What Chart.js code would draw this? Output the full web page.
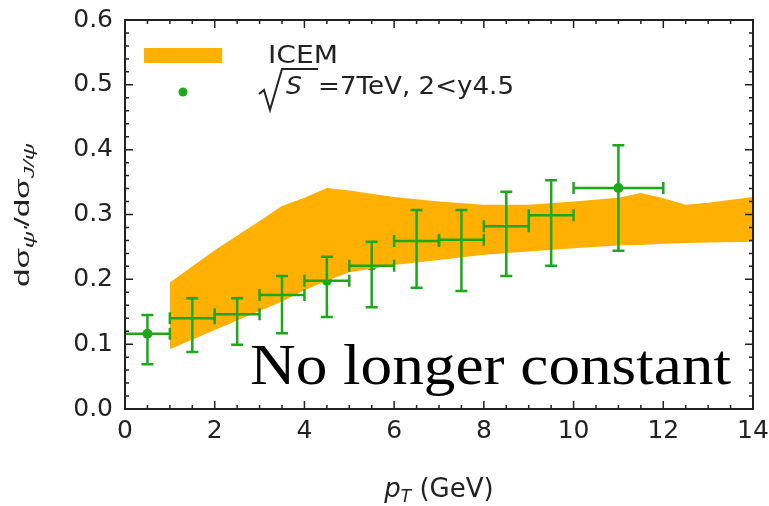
<!DOCTYPE html>
<html lang="en">
<head>
    <meta charset="UTF-8">
    <title>psi(2S)/J/psi ratio vs pT</title>
    <script src="https://cdn.jsdelivr.net/npm/chart.js"></script>
    <style>
        body {
            margin: 0;
            background: #FFF;
        }
        .wrap {
            width: 769px;
            height: 506px;
            position: relative;
        }
    </style>
</head>
<body>
    <div class="wrap">
        <canvas id="ratioChart"></canvas>
    </div>

    <script>
        // ICEM band (lower / upper edge)
        const bandX    = [1, 2, 3, 3.5, 4, 4.5, 5, 6, 7, 8, 9, 10, 11, 11.5, 12, 12.5, 13, 14];
        const bandLow  = [0.092, 0.122, 0.151, 0.166, 0.183, 0.198, 0.211, 0.222, 0.230, 0.238, 0.243, 0.248, 0.252, 0.253, 0.255, 0.256, 0.257, 0.258];
        const bandHigh = [0.195, 0.245, 0.290, 0.313, 0.326, 0.341, 0.337, 0.327, 0.320, 0.315, 0.315, 0.320, 0.326, 0.333, 0.325, 0.315, 0.318, 0.327];

        // LHCb data points with errors
        const ptX   = [0.5, 1.5, 2.5, 3.5, 4.5, 5.5, 6.5, 7.5, 8.5, 9.5, 11];
        const ptXLo = [0, 1, 2, 3, 4, 5, 6, 7, 8, 9, 10];
        const ptXHi = [1, 2, 3, 4, 5, 6, 7, 8, 9, 10, 12];
        const ptY   = [0.116, 0.140, 0.146, 0.176, 0.198, 0.221, 0.259, 0.261, 0.282, 0.299, 0.341];
        const ptYLo = [0.069, 0.088, 0.099, 0.117, 0.142, 0.157, 0.187, 0.182, 0.205, 0.221, 0.244];
        const ptYHi = [0.145, 0.171, 0.171, 0.205, 0.235, 0.258, 0.307, 0.307, 0.335, 0.353, 0.407];

        const xTickLabels = ['0', '2', '4', '6', '8', '10', '12', '14'];
        const yTickLabels = ['0.0', '0.1', '0.2', '0.3', '0.4', '0.5', '0.6'];

        const ORANGE = '#FFB000';
        const GREEN = '#1BA81B';
        const INK = '#222';

        // draws text squeezed/stretched horizontally to a given width
        function fitText(ctx, text, x, y, width) {
            const w = ctx.measureText(text).width;
            ctx.save();
            ctx.translate(x, y);
            ctx.scale(width / w, 1);
            ctx.fillText(text, 0, 0);
            ctx.restore();
        }

        // error bars, frame with inward ticks, legend, titles
        const decorPlugin = {
            id: 'decor',
            afterDatasetsDraw(chart) {
                const ctx = chart.ctx;
                const xs = chart.scales.x, ys = chart.scales.y;
                const a = chart.chartArea;

                ctx.save();
                ctx.strokeStyle = GREEN;
                ctx.lineWidth = 2.5;
                for (let i = 0; i < ptX.length; i++) {
                    const px = xs.getPixelForValue(ptX[i]);
                    const py = ys.getPixelForValue(ptY[i]);
                    const x0 = xs.getPixelForValue(ptXLo[i]);
                    const x1 = xs.getPixelForValue(ptXHi[i]);
                    const y0 = ys.getPixelForValue(ptYLo[i]);
                    const y1 = ys.getPixelForValue(ptYHi[i]);
                    ctx.beginPath();
                    ctx.moveTo(x0, py); ctx.lineTo(x1, py);
                    ctx.moveTo(px, y0); ctx.lineTo(px, y1);
                    ctx.moveTo(px - 6, y0); ctx.lineTo(px + 6, y0);
                    ctx.moveTo(px - 6, y1); ctx.lineTo(px + 6, y1);
                    if (ptXLo[i] > 0) { ctx.moveTo(x0, py - 6); ctx.lineTo(x0, py + 6); }
                    ctx.moveTo(x1, py - 6); ctx.lineTo(x1, py + 6);
                    ctx.stroke();
                }

                // frame
                ctx.strokeStyle = INK;
                ctx.lineWidth = 2;
                ctx.strokeRect(a.left, a.top, a.right - a.left, a.bottom - a.top);
                ctx.lineWidth = 1.5;
                ctx.beginPath();
                for (let v = 0; v <= 14.001; v += 0.5) {
                    const x = xs.getPixelForValue(v);
                    const len = Math.abs(v % 2) < 0.01 ? 8 : 4;
                    ctx.moveTo(x, a.bottom); ctx.lineTo(x, a.bottom - len);
                    ctx.moveTo(x, a.top); ctx.lineTo(x, a.top + len);
                }
                for (let k = 0; k <= 30; k++) {
                    const y = ys.getPixelForValue(k * 0.02);
                    const len = k % 5 === 0 ? 8 : 4;
                    ctx.moveTo(a.left, y); ctx.lineTo(a.left + len, y);
                    ctx.moveTo(a.right, y); ctx.lineTo(a.right - len, y);
                }
                ctx.stroke();

                // legend
                ctx.fillStyle = ORANGE;
                ctx.fillRect(144, 48, 78, 15);
                ctx.fillStyle = GREEN;
                ctx.beginPath();
                ctx.arc(183, 92, 4.5, 0, Math.PI * 2);
                ctx.fill();

                ctx.fillStyle = INK;
                ctx.textBaseline = 'alphabetic';
                ctx.textAlign = 'left';
                ctx.font = '25px "DejaVu Sans"';
                fitText(ctx, 'ICEM', 268, 63, 70);

                ctx.strokeStyle = INK;
                ctx.lineWidth = 2;
                ctx.beginPath();
                ctx.moveTo(259, 94); ctx.lineTo(264, 90);
                ctx.lineTo(270, 110); ctx.lineTo(282, 69); ctx.lineTo(318, 69);
                ctx.stroke();
                ctx.font = 'italic 25px "DejaVu Sans"';
                ctx.fillText('S', 286, 94);
                ctx.font = '25px "DejaVu Sans"';
                fitText(ctx, '=7TeV, 2<y4.5', 318, 94, 196);

                // big annotation
                ctx.fillStyle = '#000';
                ctx.font = '57px "Liberation Serif"';
                fitText(ctx, 'No longer constant', 250, 384, 481);

                // x title: p_T (GeV), centred under the axis
                ctx.fillStyle = INK;
                const tparts = [
                    ['p', 'italic 26px "DejaVu Sans"', 0],
                    ['T', 'italic 17px "DejaVu Sans"', 5],
                    [' (GeV)', '26px "DejaVu Sans"', 0]
                ];
                let tw = 0;
                tparts.forEach(p => { ctx.font = p[1]; tw += ctx.measureText(p[0]).width; });
                let cx = (a.left + a.right) / 2 - tw / 2;
                tparts.forEach(p => {
                    ctx.font = p[1];
                    ctx.fillText(p[0], cx, 497 + p[2]);
                    cx += ctx.measureText(p[0]).width;
                });

                // y title: dσ_ψ'/dσ_J/ψ
                const parts = [
                    ['dσ', '21px "Liberation Sans"', 0],
                    ["ψ'", 'italic 15px "Liberation Sans"', 5],
                    ['/dσ', '21px "Liberation Sans"', 0],
                    ['J/ψ', 'italic 15px "Liberation Sans"', 5]
                ];
                let total = 0;
                parts.forEach(p => { ctx.font = p[1]; total += ctx.measureText(p[0]).width; });
                ctx.translate(29, 215);
                ctx.rotate(-Math.PI / 2);
                ctx.scale(144 / total, 1);
                let tx = -total / 2;
                parts.forEach(p => {
                    ctx.font = p[1];
                    ctx.fillText(p[0], tx, p[2]);
                    tx += ctx.measureText(p[0]).width;
                });
                ctx.restore();
            }
        };

        const ctx = document.getElementById('ratioChart').getContext('2d');
        new Chart(ctx, {
            type: 'line',
            data: {
                datasets: [
                    {
                        label: 'ICEM low',
                        data: bandX.map((x, i) => ({ x: x, y: bandLow[i] })),
                        borderWidth: 0,
                        pointRadius: 0,
                        fill: false
                    },
                    {
                        label: 'ICEM',
                        data: bandX.map((x, i) => ({ x: x, y: bandHigh[i] })),
                        borderWidth: 0,
                        pointRadius: 0,
                        backgroundColor: ORANGE,
                        fill: '-1'
                    },
                    {
                        label: 'data',
                        data: ptX.map((x, i) => ({ x: x, y: ptY[i] })),
                        showLine: false,
                        pointRadius: 5,
                        pointBackgroundColor: GREEN,
                        pointBorderWidth: 0
                    }
                ]
            },
            plugins: [decorPlugin],
            options: {
                responsive: true,
                maintainAspectRatio: false,
                animation: false,
                events: [],
                layout: { padding: { top: 20, right: 16, left: 0, bottom: 0 } },
                plugins: {
                    legend: { display: false },
                    tooltip: { enabled: false }
                },
                scales: {
                    x: {
                        type: 'linear',
                        min: 0,
                        max: 14,
                        grid: { display: false, drawTicks: false },
                        border: { display: false },
                        afterFit: s => {
                            s.height = 97;
                            s.paddingLeft = 0;
                            s.paddingRight = 0;
                        },
                        ticks: {
                            stepSize: 2,
                            padding: 7,
                            color: INK,
                            font: { family: 'DejaVu Sans', size: 25 },
                            callback: (v) => xTickLabels[Math.round(v / 2)]
                        }
                    },
                    y: {
                        min: 0,
                        max: 0.6,
                        grid: { display: false, drawTicks: false },
                        border: { display: false },
                        afterFit: s => {
                            s.width = 125;
                            s.paddingTop = 0;
                            s.paddingBottom = 0;
                        },
                        ticks: {
                            stepSize: 0.1,
                            padding: 12,
                            color: INK,
                            font: { family: 'DejaVu Sans', size: 25 },
                            callback: (v) => yTickLabels[Math.round(v * 10)]
                        }
                    }
                }
            }
        });
    </script>
</body>
</html>
